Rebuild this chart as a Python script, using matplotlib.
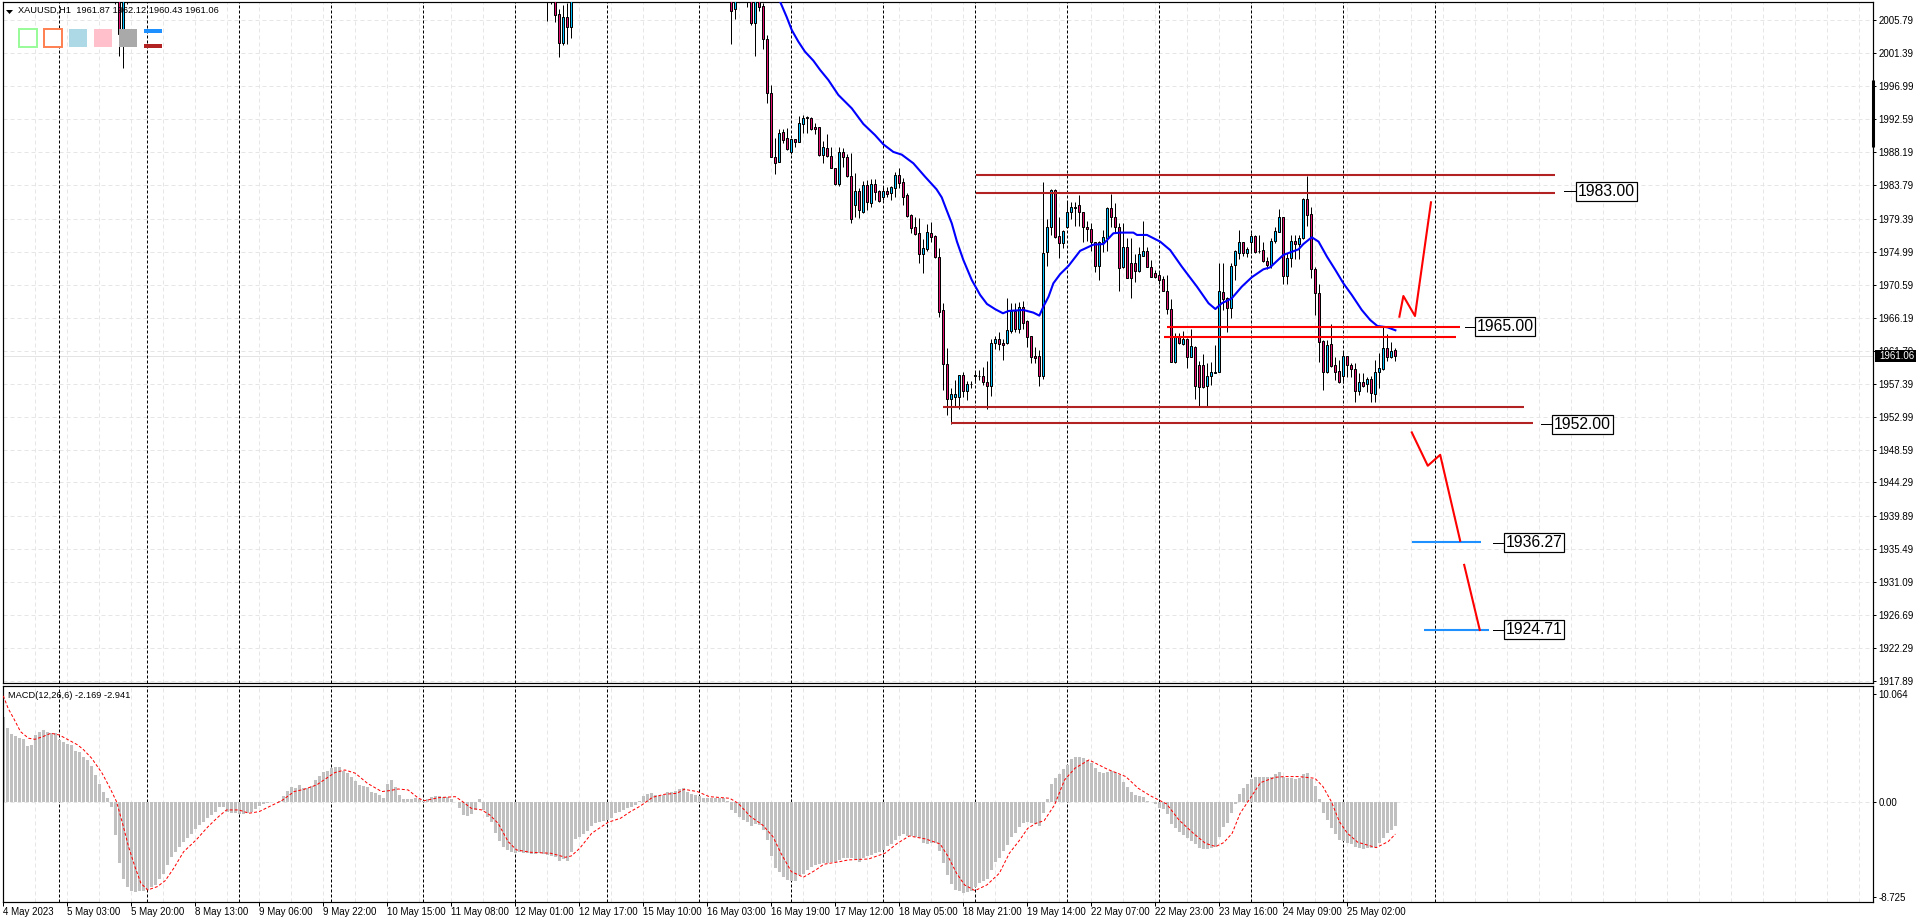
import matplotlib
matplotlib.use('Agg')
import matplotlib.pyplot as plt
from matplotlib.patches import Rectangle, Polygon
import numpy as np

W, H = 1916, 923
PX = 0.72  # one pixel as a line width at dpi 100

# candles, bar number counted from 4 May 2023 00:00 (bars above the chart top are clipped)
candle_bars = [28, 29, 30, 31] + list(range(136, 143)) + [182, 183] + list(range(186, 349))

opens = [2010, 2010, 2004.56, 2010,
         2010, 2011, 2009.5, 2006.55, 2002.79, 2006.15, 2004.82,
         2010, 2007.22,
         2011, 2010, 2005.45, 2009, 2007.66, 2003.23, 1996.05, 1987.54, 1986.96, 1990.86,
         1990.06, 1988.29, 1989.93, 1989.62, 1992.01, 1992.86, 1992.72, 1991.53, 1991.53, 1987.8,
         1988.73, 1987.71, 1986.16, 1984.03, 1988.2, 1987.54, 1985.01, 1981.15, 1983.0, 1980.31,
         1983.81, 1981.51, 1983.95, 1983.0, 1982.2, 1983.0, 1982.84, 1983.5, 1985.19, 1984.26,
         1982.48, 1979.87, 1978.23, 1977.43, 1974.63, 1975.3, 1977.43, 1977.07, 1974.23, 1967.23,
         1960.0, 1955.44, 1955.7, 1955.62, 1958.54, 1956.41, 1957.43, 1958.5, 1958.41, 1958.41,
         1957.66, 1957.17, 1962.89, 1963.33, 1962.8, 1962.8, 1964.48, 1967.14, 1964.75, 1967.67,
         1965.72, 1963.77, 1961.11, 1961.11, 1958.45, 1974.9, 1978.31, 1983.19, 1977.07, 1976.19,
         1978.22, 1980.22, 1980.97, 1981.15, 1980.31, 1978.22, 1977.96, 1976.32, 1973.13, 1976.32,
         1976.76, 1980.75, 1979.64, 1978.22, 1972.99, 1975.57, 1973.44, 1973.44, 1972.46, 1974.46,
         1975.03, 1972.99, 1972.11, 1971.84, 1971.31, 1969.8, 1967.32, 1960.36, 1963.68, 1962.71,
         1963.33, 1961.03, 1962.35, 1959.92, 1959.92, 1957.12, 1958.45, 1958.9, 1958.94, 1969.67,
         1968.78, 1967.45, 1973.22, 1974.86, 1976.23, 1974.86, 1976.32, 1977.07, 1975.03, 1975.21,
         1973.75, 1973.22, 1976.45, 1977.65, 1979.56, 1971.8, 1974.1, 1976.41, 1976.01, 1976.76,
         1981.99, 1980.0, 1972.68, 1969.45, 1963.11, 1959.03, 1962.67, 1959.87, 1959.07, 1958.45,
         1961.07, 1959.92, 1959.34, 1956.5, 1957.61, 1957.34, 1958.01, 1956.06, 1959.03, 1959.39,
         1962.13, 1961.03, 1961.87]

highs = [2012, 2012, 2012, 2012,
         2012, 2012, 2011, 2007.22, 2007.8, 2008.1, 2012,
         2012, 2012,
         2012, 2012, 2012, 2012, 2008.1, 2003.81, 1997.16, 1990.06, 1991.26, 1991.26,
         1991.39, 1989.93, 1989.93, 1993.03, 1993.17, 1992.99, 1992.94, 1992.06, 1991.61, 1989.71,
         1990.6, 1988.95, 1986.16, 1988.87, 1988.73, 1987.98, 1988.07, 1985.45, 1983.41, 1984.39,
         1984.52, 1984.61, 1984.61, 1983.19, 1983.77, 1983.55, 1983.72, 1985.54, 1986.07, 1984.74,
         1982.84, 1980.0, 1979.64, 1979.42, 1976.63, 1978.67, 1978.98, 1977.2, 1975.43, 1968.21,
         1962.13, 1956.81, 1957.92, 1958.54, 1959.03, 1957.79, 1957.79, 1959.16, 1959.25, 1959.7,
         1960.45, 1963.42, 1963.77, 1964.35, 1963.33, 1968.78, 1968.12, 1968.21, 1968.34, 1968.43,
         1965.9, 1963.77, 1962.35, 1961.91, 1984.25, 1979.33, 1983.28, 1983.28, 1979.64, 1977.87,
         1981.55, 1981.55, 1981.55, 1982.53, 1980.31, 1979.11, 1978.76, 1976.32, 1976.41, 1977.87,
         1980.88, 1982.66, 1981.42, 1978.76, 1978.76, 1976.76, 1976.76, 1974.63, 1975.65, 1979.07,
         1975.65, 1973.88, 1972.55, 1972.42, 1971.8, 1971.89, 1968.65, 1964.22, 1964.22, 1964.44,
         1963.46, 1964.66, 1962.44, 1960.5, 1961.38, 1960.14, 1960.27, 1962.58, 1973.44, 1973.53,
         1968.92, 1973.44, 1975.21, 1977.87, 1976.32, 1975.57, 1977.43, 1977.21, 1977.2, 1976.32,
         1974.32, 1976.76, 1978.31, 1980.66, 1979.64, 1974.77, 1977.21, 1977.21, 1977.21, 1982.08,
         1985.1, 1980.88, 1972.9, 1970.64, 1963.24, 1963.24, 1965.33, 1961.03, 1960.58, 1961.78,
         1961.11, 1960.23, 1960.23, 1958.81, 1958.81, 1958.37, 1958.45, 1960.58, 1961.56, 1965.01,
         1964.04, 1962.93, 1962.12]

lows = [2007.9, 2001.06, 1999.46, 2007.9,
        2005.71, 2007.9, 2005.58, 2000.92, 2002.48, 2002.6, 2003.45,
        2002.65, 2005.98,
        2007.57, 2005.18, 2001.06, 2007.04, 2001.94, 1994.72, 1987.54, 1985.27, 1986.96, 1989.49,
        1988.51, 1987.98, 1988.95, 1989.62, 1990.82, 1990.82, 1991.17, 1990.64, 1987.71, 1986.83,
        1987.62, 1986.07, 1983.86, 1983.77, 1986.29, 1984.97, 1978.85, 1979.56, 1979.47, 1980.09,
        1980.53, 1980.97, 1981.86, 1981.55, 1981.86, 1982.3, 1981.86, 1982.3, 1983.5, 1981.2,
        1979.56, 1977.43, 1977.21, 1973.53, 1972.2, 1975.12, 1976.32, 1974.1, 1966.26, 1956.59,
        1953.27, 1952.0, 1954.37, 1954.02, 1955.7, 1955.26, 1956.81, 1957.57, 1957.92, 1957.26,
        1954.02, 1955.79, 1962.0, 1961.91, 1960.58, 1962.66, 1964.22, 1964.35, 1964.13, 1964.66,
        1962.35, 1960.23, 1960.23, 1957.17, 1958.05, 1973.12, 1977.21, 1976.76, 1974.19, 1975.52,
        1978.09, 1979.38, 1978.4, 1978.4, 1976.32, 1976.45, 1975.08, 1972.33, 1971.22, 1974.99,
        1975.08, 1978.22, 1977.43, 1969.8, 1972.86, 1971.44, 1968.87, 1970.91, 1972.33, 1974.41,
        1972.9, 1971.58, 1971.49, 1970.69, 1969.8, 1966.7, 1960.36, 1960.23, 1962.71, 1962.58,
        1959.56, 1960.94, 1955.44, 1954.46, 1956.81, 1954.46, 1957.26, 1958.81, 1958.94, 1967.23,
        1964.35, 1966.12, 1971.22, 1973.97, 1974.41, 1974.32, 1974.86, 1974.77, 1974.86, 1973.66,
        1972.64, 1972.77, 1976.1, 1977.56, 1970.64, 1970.69, 1973.0, 1973.97, 1974.01, 1976.67,
        1978.4, 1971.44, 1966.57, 1960.36, 1956.59, 1958.81, 1959.7, 1957.92, 1957.57, 1957.48,
        1958.37, 1958.37, 1955.04, 1955.93, 1957.04, 1956.37, 1954.95, 1954.95, 1956.81, 1959.25,
        1960.49, 1960.89, 1960.43]

closes = [2009, 2003.9, 2010, 2009,
          2009.5, 2010, 2006.51, 2002.79, 2006.15, 2004.82, 2010,
          2007.04, 2010,
          2010, 2005.45, 2010, 2007.57, 2003.32, 1996.05, 1987.62, 1986.83, 1990.73, 1989.84,
          1988.64, 1989.93, 1989.62, 1992.06, 1992.72, 1992.72, 1991.35, 1991.26, 1987.85, 1988.87,
          1987.71, 1986.16, 1983.99, 1988.2, 1987.54, 1985.01, 1979.29, 1983.0, 1980.49, 1983.81,
          1981.55, 1983.95, 1982.97, 1981.77, 1983.0, 1982.7, 1983.55, 1985.19, 1984.17, 1982.3,
          1979.73, 1978.18, 1977.34, 1974.63, 1975.43, 1977.56, 1976.98, 1974.23, 1967.01, 1960.0,
          1955.35, 1956.02, 1956.02, 1958.54, 1956.41, 1957.39, 1957.4, 1958.5, 1958.41, 1957.7,
          1957.17, 1962.89, 1963.33, 1962.66, 1962.62, 1964.57, 1967.14, 1964.75, 1967.67, 1965.55,
          1963.68, 1960.94, 1960.89, 1958.5, 1974.77, 1978.31, 1983.19, 1976.98, 1976.19, 1977.74,
          1980.22, 1980.89, 1980.84, 1980.31, 1978.22, 1977.96, 1976.32, 1973.13, 1976.32, 1976.9,
          1980.75, 1979.64, 1978.22, 1972.86, 1975.57, 1971.53, 1971.53, 1972.46, 1974.63, 1975.03,
          1972.99, 1971.66, 1971.66, 1971.22, 1969.8, 1967.32, 1960.36, 1963.68, 1962.8, 1963.33,
          1961.03, 1962.44, 1957.17, 1957.04, 1956.95, 1958.45, 1958.99, 1958.99, 1969.8, 1968.74,
          1967.45, 1973.13, 1975.03, 1976.23, 1974.77, 1975.3, 1977.07, 1974.99, 1975.07, 1973.79,
          1973.22, 1976.45, 1977.74, 1979.56, 1971.8, 1974.19, 1976.41, 1976.05, 1976.76, 1981.99,
          1979.91, 1972.64, 1969.54, 1963.02, 1959.03, 1962.53, 1959.83, 1959.03, 1957.66, 1961.07,
          1959.87, 1959.39, 1956.5, 1957.61, 1957.12, 1958.05, 1956.15, 1959.03, 1959.47, 1962.13,
          1961.03, 1961.82, 1961.06]

# moving average
ma_bars = [194.3, 195.8, 197.1, 198.75, 200.4, 202.5, 204.2, 206.25, 208.75, 212.1, 215, 217.9,
           220, 222.5, 224.6, 227.5, 230.4, 233.3, 234.6, 235.8, 237.1, 238.4, 240, 242.1, 244.2,
           245.9, 248, 249.9, 251.3, 255, 257.5, 259, 260, 261.3, 262.5, 264.2, 266.3, 269.2,
           272.5, 275, 277.5, 279.2, 282.5, 283.4, 285.9, 289.2, 291.7, 294.6, 298.4, 301.3, 303,
           304.6, 307.1, 309.6, 312.1, 315, 316.7, 320, 323.8, 325, 327.1, 328.8, 330.9, 333, 335,
           337.1, 339.6, 341.7, 343.5, 346, 348]
ma_vals = [2008.1, 2006.24, 2004.47, 2002.92, 2001.59, 2000.39, 1999.15, 1997.82, 1995.83, 1994.05,
           1991.97, 1990.5, 1989.26, 1988.25, 1987.89, 1986.74, 1984.97, 1983.28, 1982.2, 1980.53,
           1978.76, 1976.32, 1973.88, 1971.22, 1969.23, 1968.03, 1967.32, 1966.79, 1967.1, 1967.23,
           1966.88, 1966.48, 1967.67, 1969, 1970.78, 1972, 1973.1, 1975.1, 1975.92, 1976, 1977.43,
           1977.52, 1977.52, 1977.21, 1977.21, 1976.32, 1975.2, 1973, 1970.33, 1968.12, 1967.36,
           1968.12, 1968.78, 1970.33, 1971.58, 1972.64, 1972.9, 1974.55, 1975.3, 1976, 1976.9,
           1976.32, 1974.32, 1972.55, 1970.78, 1969.23, 1967.23, 1965.9, 1965.1, 1964.93, 1964.53]

# levels drawn on the chart: bar_start, bar_end, price
brown_levels = [(243.1, 387.9, 1985.19), (243.1, 387.9, 1982.79),
                (234.9, 380.2, 1954.33), (237, 382.4, 1952.2)]
red_levels = [(291, 364.2, 1964.97), (290.1, 363.2, 1963.64)]
blue_levels = [(352.1, 369.4, 1936.39), (355.2, 371.4, 1924.67)]

up_path_bars = [349, 350, 352.9, 356.9]
up_path_vals = [1966.34, 1969.09, 1966.43, 1981.55]
down_path_bars = [352.1, 356.1, 359.2, 364.2]
down_path_vals = [1950.95, 1946.51, 1947.97, 1936.53]
down_path2_bars = [365.2, 369.1]
down_path2_vals = [1933.33, 1924.67]

level_labels = ['1983.00', '1965.00', '1952.00', '1936.27', '1924.71']
label_vals = [1983.0, 1965.0, 1952.0, 1936.27, 1924.71]
label_bars = [400.7, 375.4, 394.7, 382.6, 382.6]
dash_starts = [390.2, 365.4, 384.4, 372.5, 372.5]
dash_ends = [393.2, 368, 387.2, 375.1, 375.1]

price_ticks = [2005.79, 2001.39, 1996.99, 1992.59, 1988.19, 1983.79, 1979.39, 1974.99, 1970.59,
               1966.19, 1961.79, 1957.39, 1952.99, 1948.59, 1944.29, 1939.89, 1935.49, 1931.09,
               1926.69, 1922.29, 1917.89]
last_price = 1961.06

separator_bars = [14, 36, 59, 82, 105, 128, 151, 174, 197, 220, 243, 266, 289, 312, 335, 358]
date_labels = ['4 May 2023', '5 May 03:00', '5 May 20:00', '8 May 13:00', '9 May 06:00',
               '9 May 22:00', '10 May 15:00', '11 May 08:00', '12 May 01:00', '12 May 17:00',
               '15 May 10:00', '16 May 03:00', '16 May 19:00', '17 May 12:00', '18 May 05:00',
               '18 May 21:00', '19 May 14:00', '22 May 07:00', '22 May 23:00', '23 May 16:00',
               '24 May 09:00', '25 May 02:00']

# MACD histogram, one value per bar from bar 0
macd_hist = [7.93, 6.91, 6.36, 6.14, 5.99, 5.83, 5.22, 5.31, 6.23, 6.54,
             6.70, 6.48, 6.45, 6.39, 5.77, 5.62, 5.40, 5.31, 4.78, 4.69,
             4.17, 3.92, 3.36, 2.53, 1.70, 0.93, 0.43, -0.40, -3.02, -5.59,
             -7.10, -7.81, -8.21, -8.27, -8.21, -8.18, -8.12, -7.81, -7.65, -7.13,
             -6.64, -5.80, -5.03, -4.57, -4.10, -3.70, -3.33, -2.96, -2.50, -2.10,
             -1.79, -1.42, -1.17, -0.86, -0.46, -0.46, -0.93, -0.96, -1.02, -1.08,
             -1.11, -1.02, -0.86, -0.59, -0.31, -0.15, -0.09, 0.02, 0.03, 0.15,
             0.59, 1.08, 1.45, 1.36, 1.60, 1.30, 1.30, 1.51, 2.07, 2.44,
             2.78, 2.90, 3.15, 3.24, 3.24, 2.93, 2.69, 2.31, 1.98, 1.60,
             1.51, 1.39, 0.99, 0.83, 0.68, 0.40, 1.70, 2.07, 1.39, 0.68,
             0.31, 0.31, 0.31, 0.37, 0.28, 0.15, 0.31, 0.46, 0.59, 0.59,
             0.52, 0.46, 0.28, -0.02, -0.49, -1.17, -1.23, -1.11, -0.71, 0.31,
             -0.71, -1.33, -1.85, -2.87, -3.55, -4.10, -4.41, -4.57, -4.66, -4.57,
             -4.66, -4.72, -4.78, -4.78, -4.72, -4.81, -4.88, -4.97, -5.03, -5.40,
             -5.28, -5.40, -4.57, -3.43, -3.18, -2.93, -2.65, -2.16, -1.88, -1.79,
             -1.70, -1.64, -1.42, -1.02, -0.93, -0.71, -0.56, -0.40, -0.25, 0.15,
             0.59, 0.77, 0.83, 0.65, 0.59, 0.68, 0.99, 0.99, 1.08, 1.23,
             1.30, 0.93, 0.77, 0.68, 0.59, 0.37, 0.37, 0.37, 0.37, 0.37,
             0.37, 0.12, -0.71, -1.02, -1.33, -1.64, -1.79, -2.19, -2.01, -2.10,
             -2.56, -3.49, -4.97, -6.11, -6.48, -6.94, -7.19, -7.28, -7.28, -6.73,
             -6.64, -6.27, -6.02, -5.80, -5.74, -5.65, -5.59, -5.56, -5.49, -5.34,
             -5.19, -5.19, -5.19, -5.22, -5.49, -5.19, -4.97, -4.88, -4.72, -4.57,
             -4.41, -4.04, -3.86, -3.49, -3.12, -2.96, -3.12, -3.12, -3.18, -3.33,
             -3.80, -3.86, -3.80, -3.80, -4.51, -5.59, -6.73, -7.56, -8.12, -8.18,
             -8.36, -8.27, -8.18, -7.81, -7.50, -7.25, -7.13, -6.27, -5.56, -5.19,
             -4.48, -3.95, -3.24, -2.81, -2.25, -1.88, -1.85, -1.88, -2.04, -2.16,
             -1.02, 0.31, 1.70, 2.22, 2.62, 3.06, 3.46, 3.98, 4.17, 4.23,
             4.07, 3.92, 3.61, 3.15, 2.84, 2.69, 2.84, 2.90, 2.84, 2.53,
             1.91, 1.39, 0.99, 0.68, 0.59, 0.52, 0.15, 0.02, -0.15, -0.56,
             -0.62, -1.08, -2.01, -2.41, -2.72, -3.02, -3.33, -3.55, -3.89, -4.26,
             -4.32, -4.32, -4.26, -4.10, -3.18, -2.31, -1.88, -1.02, -0.15, 0.77,
             1.30, 1.70, 2.13, 2.31, 2.38, 2.31, 2.31, 2.31, 2.62, 2.84,
             2.31, 2.25, 2.22, 2.16, 2.22, 2.62, 2.72, 2.13, 1.54, 0.31,
             -1.02, -1.64, -2.41, -2.93, -3.49, -3.58, -3.73, -3.86, -4.10, -4.20,
             -4.32, -4.26, -4.26, -4.10, -3.80, -3.33, -2.87, -2.56, -2.169]

signal_bars = [0, 1.2, 2.8, 4.3, 6.3, 7.9, 9.9, 11.9, 14, 16, 18.6, 20.1, 22.1, 24.7, 26.7, 28.3,
               29.8, 31.3, 32.9, 34.4, 36.1, 38.5, 40.5, 42.6, 45.1, 48.2, 51.2, 53.8, 55.8, 58.9,
               61.4, 64, 66.5, 69.6, 72.7, 75.2, 78.3, 80.8, 82.9, 85.4, 88, 91, 94.6, 96.6, 98.7,
               101.2, 103.8, 105.3, 108.9, 113, 114.5, 117, 119.6, 121.6, 123.7, 126.2, 128.3,
               131.8, 136.9, 140.5, 142, 144.1, 147.1, 151.2, 154.3, 156.8, 159, 160, 162.3, 165.3,
               168.4, 170.2, 173.5, 176.5, 181.6, 183.7, 186.8, 189.8, 192.4, 194.4, 197, 200,
               203.1, 205.1, 209.2, 211.2, 216.3, 220.4, 223.5, 226.5, 230.6, 234.2, 236.2, 238.3,
               240.3, 242.9, 245.9, 249, 251.5, 254.1, 256.1, 258.2, 260.2, 262.8, 265.3, 267.9,
               271.4, 276, 280.6, 283.7, 286.8, 290.8, 293.9, 297.5, 300.5, 303.1, 305.1, 307.2,
               309.2, 311.7, 314.3, 317.9, 320.2, 323.8, 327.9, 329.9, 332, 334, 336, 338.6, 343.2,
               346.2, 348]
signal_vals = [9.85, 8.70, 7.62, 6.54, 5.93, 5.83, 6.08, 6.39, 6.23, 5.83, 5.31, 4.85, 4.07, 2.69,
               1.30, 0.06, -1.94, -4.10, -5.96, -7.50, -8.12, -7.81, -7.25, -6.11, -4.57, -3.49,
               -2.25, -1.33, -0.71, -0.71, -1.02, -0.86, -0.40, 0.15, 0.99, 1.20, 1.60, 2.22, 2.75,
               2.99, 2.69, 1.76, 0.99, 1.08, 1.23, 1.14, 0.37, 0.15, 0.43, 0.52, 0.15, -0.56, -0.71,
               -1.17, -1.95, -3.64, -4.41, -4.63, -4.72, -5.09, -4.97, -4.26, -2.87, -1.85, -1.48,
               -0.86, -0.40, -0.15, 0.46, 0.74, 0.83, 1.20, 0.99, 0.52, 0.37, -0.09, -1.33, -2.10,
               -3.18, -4.72, -6.42, -6.94, -6.27, -5.74, -5.49, -5.34, -5.25, -4.72, -3.80, -3.12,
               -3.40, -3.86, -5.03, -6.57, -7.65, -8.18, -7.65, -6.57, -4.72, -3.49, -2.41, -1.94,
               -1.70, -0.25, 2.07, 3.15, 3.92, 3.06, 2.38, 1.30, 0.59, -0.15, -1.64, -2.87, -3.80,
               -4.10, -3.73, -2.87, -1.02, 0.37, 1.82, 2.31, 2.38, 2.38, 2.22, 1.45, 0.06, -1.79,
               -2.87, -3.70, -4.20, -3.64, -2.941]

macd_ticks = [10.064, 0.0, -8.725]
macd_tick_labels = ['10.064', '0.00', '-8.725']

# colours
BULL = '#00BFFF'
BEAR = '#E0106E'
BROWN = '#B22222'
BLUE_LEVEL = '#1E90FF'
GRID = '#E6E6E6'
FONT = 'Liberation Sans'
SMALL = 7


def px_box(left, top, right, bottom):
    return [left / W, 1 - bottom / H, (right - left) / W, (bottom - top) / H]


def swatch(fig, left, top, right, bottom, face, edge=None, lw=0):
    fig.add_artist(Rectangle((left / W, 1 - bottom / H), (right - left) / W, (bottom - top) / H,
                             transform=fig.transFigure, facecolor=face,
                             edgecolor=edge if edge else 'none', linewidth=lw))


def setup_panel(ax, ylim):
    ax.set_xlim(-0.2, 467.4)
    ax.set_ylim(*ylim)
    ax.set_facecolor('white')
    for spine in ax.spines.values():
        spine.set_linewidth(PX * 1.2)
        spine.set_color('black')
    ax.yaxis.tick_right()
    ax.tick_params(axis='y', length=2.5, width=PX, pad=1.5)
    # MT4 draws its grid every 8 bars
    for b in np.arange(0, 467, 8):
        ax.axvline(b, color=GRID, lw=PX, ls=(0, (4, 3)), zorder=0.5)
    for b in separator_bars:
        ax.axvline(b, color='black', lw=PX, ls=(0, (3, 2)), zorder=1)


def plot_price_panel(ax):
    setup_panel(ax, (1917.58, 2008.15))
    ax.set_xticks([])
    ax.set_yticks(price_ticks)
    ax.set_yticklabels(['%.2f' % p for p in price_ticks], family=FONT, fontsize=SMALL)
    for p in price_ticks:
        ax.axhline(p, color=GRID, lw=PX, ls=(0, (4, 3)), zorder=0.5)
    ax.axhline(last_price, color='#E4E4E4', lw=PX, zorder=0.8)

    # candles
    bars = np.array(candle_bars)
    o, h, l, c = map(np.array, (opens, highs, lows, closes))
    ax.vlines(bars, l, h, color='black', lw=PX, zorder=2)
    colors = [BULL if cc >= oo else BEAR for oo, cc in zip(o, c)]
    ax.bar(bars, np.maximum(np.abs(c - o), 0.02), bottom=np.minimum(o, c), width=0.5,
           color=colors, edgecolor='black', linewidth=PX, zorder=3)

    ax.plot(ma_bars, ma_vals, color='#0000FF', lw=1.5, zorder=4)

    for b0, b1, p in brown_levels:
        ax.plot([b0, b1], [p, p], color=BROWN, lw=1.5, zorder=5, solid_capstyle='butt')
    for b0, b1, p in red_levels:
        ax.plot([b0, b1], [p, p], color='#FF0000', lw=1.5, zorder=5, solid_capstyle='butt')
    for b0, b1, p in blue_levels:
        ax.plot([b0, b1], [p, p], color=BLUE_LEVEL, lw=1.5, zorder=5, solid_capstyle='butt')

    ax.plot(up_path_bars, up_path_vals, color='#FF0000', lw=1.5, zorder=5)
    ax.plot(down_path_bars, down_path_vals, color='#FF0000', lw=1.5, zorder=5)
    ax.plot(down_path2_bars, down_path2_vals, color='#FF0000', lw=1.5, zorder=5)

    for text, val, bar, d0, d1 in zip(level_labels, label_vals, label_bars, dash_starts, dash_ends):
        ax.plot([d0, d1], [val, val], color='black', lw=PX, zorder=6)
        ax.text(bar, val, text, ha='center', va='center', family=FONT, fontsize=11.3, color='black',
                zorder=7, bbox=dict(boxstyle='square,pad=0.12', fc='white', ec='black', lw=PX * 1.2))

    # thick mark on the price scale
    ax.plot([1.0, 1.0], [1988.9, 1997.8], color='black', lw=2.2, zorder=8, clip_on=False,
            transform=ax.get_yaxis_transform(), solid_capstyle='butt')


def plot_macd_panel(ax):
    setup_panel(ax, (-9.26, 10.81))
    ax.axhline(0, color=GRID, lw=PX, ls=(0, (4, 3)), zorder=0.5)
    ax.bar(np.arange(len(macd_hist)), macd_hist, width=0.75, color='#C0C0C0', linewidth=0,
           antialiased=False, zorder=2)
    ax.plot(signal_bars, signal_vals, color='#FF0000', lw=PX, ls=(0, (3, 2)), zorder=3)
    ax.set_yticks(macd_ticks)
    ax.set_yticklabels(macd_tick_labels, family=FONT, fontsize=SMALL)
    ticks = [16 * i for i in range(len(date_labels))]
    ax.set_xticks(ticks)
    ax.set_xticklabels(date_labels, family=FONT, fontsize=SMALL, ha='left')
    ax.tick_params(axis='x', length=3, width=PX, pad=0.5)


if __name__ == '__main__':
    fig = plt.figure(figsize=(W / 100, H / 100), dpi=100, facecolor='white')
    ax_price = fig.add_axes(px_box(2.5, 2.3, 1873, 683.3))
    ax_macd = fig.add_axes(px_box(2.5, 685.5, 1873, 902.3))

    plot_price_panel(ax_price)
    plot_macd_panel(ax_macd)

    # chart title and small marker
    fig.text(17.5 / W, 1 - 10.7 / H, 'XAUUSD,H1  1961.87 1962.12 1960.43 1961.06',
             family=FONT, fontsize=6.7, va='center', ha='left', zorder=10)
    fig.add_artist(Polygon([(6 / W, 1 - 10 / H), (13 / W, 1 - 10 / H), (9.5 / W, 1 - 14 / H)],
                           transform=fig.transFigure, facecolor='black', edgecolor='none'))
    fig.text(7.8 / W, 1 - 695 / H, 'MACD(12,26,6) -2.169 -2.941', family=FONT, fontsize=6.7,
             va='center', ha='left', zorder=10)

    # last price tag on top of the scale labels
    swatch(fig, 1875, 350, 1916, 361.5, 'black')
    fig.text(1879 / W, 1 - 355.9 / H, '%.2f' % last_price, family=FONT, fontsize=SMALL,
             color='white', va='center', ha='left', zorder=10)

    # button row in the top left corner
    swatch(fig, 19, 29, 37, 47, 'white', '#98FB98', 1.4)
    swatch(fig, 44, 29, 62, 47, 'white', '#FF7F50', 1.4)
    swatch(fig, 69, 29, 87, 47, '#ADD8E6')
    swatch(fig, 94, 29, 112, 47, '#FFC0CB')
    swatch(fig, 119, 29, 137, 47, '#A9A9A9')
    swatch(fig, 144, 29, 162, 33, BLUE_LEVEL)
    swatch(fig, 144, 44, 162, 48, BROWN)

    fig.savefig('out.png', dpi=100, facecolor='white')
